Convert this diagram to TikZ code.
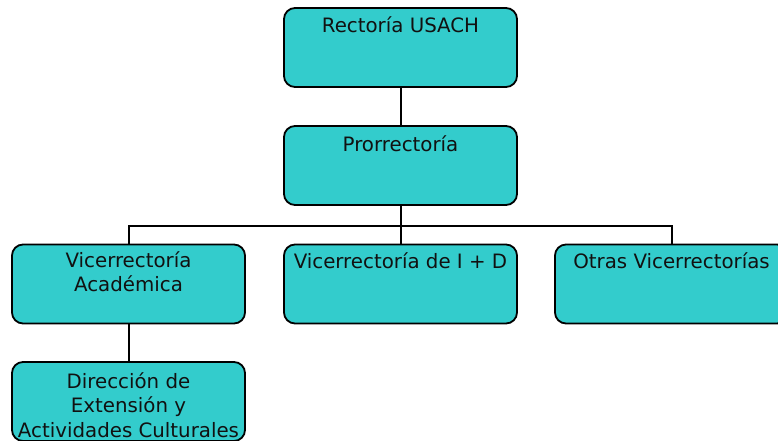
\documentclass[tikz,border=0pt]{standalone}
\usepackage{fontspec}
\setmainfont{DejaVu Sans}
\definecolor{turquesa}{HTML}{33CCCC}
\definecolor{letra}{HTML}{111111}
\tikzset{
  caja/.style={rectangle, rounded corners=11pt, draw, line width=1.8pt, fill=turquesa,
    minimum width=233pt, minimum height=79pt, inner sep=0pt},
  texto/.style={anchor=north, inner sep=0pt, align=center, text=letra,
    font=\fontsize{19.8}{24.5}\selectfont},
  linea/.style={line width=2pt}
}
\begin{document}
\begin{tikzpicture}[x=1pt,y=1pt]
\useasboundingbox (0,0) rectangle (778,-440);
\path (400.5,-47.5) node[caja, label={[texto,yshift=-9.5pt]north:Rectoría USACH}](r) {}
(400.5,-165.5) node[caja, label={[texto,yshift=-10pt]north:Prorrectoría}](p) {}
(128.5,-284) node[caja, label={[texto,yshift=-7.5pt]north:Vicerrectoría\\Académica}](v1) {}
(400.5,-284) node[caja, label={[texto,yshift=-9pt]north:Vicerrectoría de I + D}](v2) {}
(671.5,-284) node[caja, label={[texto,yshift=-9pt]north:Otras Vicerrectorías}](v3) {}
(128.5,-401.5) node[caja, label={[texto,yshift=-11pt]north:Dirección de\\Extensión y\\Actividades Culturales}](d1) {};
\coordinate (bus) at (400.5,-226);
%\draw[linea] (r) -- (p);
\draw[linea] (r.south) -- (p.north);
\draw[linea] (p.south) -- (v2.north);
\draw[linea] (bus) -| (v1.north);
\draw[linea] (bus) -| (v3.north);
\draw[linea] (v1.south) -- (d1.north);
\end{tikzpicture}
\end{document}
